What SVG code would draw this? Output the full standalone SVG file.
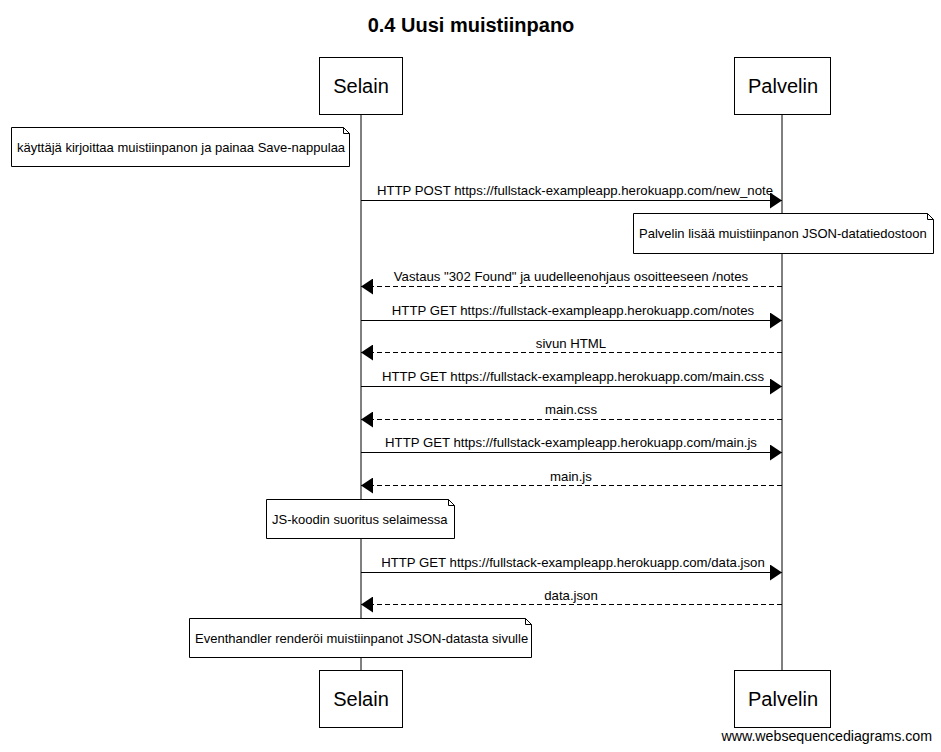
<svg xmlns="http://www.w3.org/2000/svg" width="941" height="752" viewBox="0 0 941 752">
<defs>
<style>
text{font-family:"Liberation Sans",Arial,sans-serif;fill:#000}
.title{font-size:20px;font-weight:bold;text-anchor:middle}
.actor{font-size:20px;text-anchor:middle}
.lbl{font-size:13.2px;text-anchor:middle}
.note{font-size:13px}
.box{fill:#fff;stroke:#000;stroke-width:1}
.life{stroke:#000;stroke-width:1}
.msg{stroke:#000;stroke-width:1;fill:none}
.ret{stroke:#000;stroke-width:1;fill:none;stroke-dasharray:5,3}
.wm{font-size:14.2px;text-anchor:end}
</style>
<marker id="ah" markerWidth="12" markerHeight="16" refX="12" refY="8" orient="auto" markerUnits="userSpaceOnUse">
<path d="M0,0 L12,8 L0,16 Z" fill="#000"/>
</marker>
</defs>
<rect width="941" height="752" fill="#fff"/>
<text class="title" x="471" y="32">0.4 Uusi muistiinpano</text>
<g id="lifelines">
<line class="life" x1="361" y1="114" x2="361" y2="670"/>
<line class="life" x1="782" y1="114" x2="782" y2="670"/>
</g>
<g id="selain-top"><rect class="box" x="319.5" y="57.5" width="83" height="57"/><text class="actor" x="361" y="93">Selain</text></g>
<g id="palvelin-top"><rect class="box" x="734.5" y="57.5" width="96" height="57"/><text class="actor" x="783" y="93">Palvelin</text></g>
<g id="selain-bottom"><rect class="box" x="319.5" y="670.5" width="83" height="57"/><text class="actor" x="361" y="706">Selain</text></g>
<g id="palvelin-bottom"><rect class="box" x="734.5" y="670.5" width="96" height="57"/><text class="actor" x="783" y="706">Palvelin</text></g>
<g id="note1"><path class="box" d="M11.5,127.5 H343.5 L349.5,133.5 V166.5 H11.5 Z"/><path class="msg" d="M343.5,127.5 V133.5 H349.5"/><text class="note" x="17" y="152">käyttäjä kirjoittaa muistiinpanon ja painaa Save-nappulaa</text></g>
<g id="note2"><path class="box" d="M633.5,213.5 H927.5 L933.5,219.5 V253.5 H633.5 Z"/><path class="msg" d="M927.5,213.5 V219.5 H933.5"/><text class="note" x="639" y="238">Palvelin lisää muistiinpanon JSON-datatiedostoon</text></g>
<g id="note3"><path class="box" d="M266.5,499.5 H448.5 L454.5,505.5 V538.5 H266.5 Z"/><path class="msg" d="M448.5,499.5 V505.5 H454.5"/><text class="note" x="272" y="524">JS-koodin suoritus selaimessa</text></g>
<g id="note4"><path class="box" d="M189.5,618.5 H525.5 L531.5,624.5 V657.5 H189.5 Z"/><path class="msg" d="M525.5,618.5 V624.5 H531.5"/><text class="note" x="195" y="643">Eventhandler renderöi muistiinpanot JSON-datasta sivulle</text></g>
<g id="connectors">
<line class="msg" x1="361" y1="200.5" x2="782" y2="200.5" marker-end="url(#ah)"/>
<text class="lbl" x="575" y="195">HTTP POST https://fullstack-exampleapp.herokuapp.com/new_note</text>
<line class="ret" x1="782" y1="286.5" x2="361" y2="286.5" marker-end="url(#ah)"/>
<text class="lbl" x="571" y="281">Vastaus "302 Found" ja uudelleenohjaus osoitteeseen /notes</text>
<line class="msg" x1="361" y1="320.5" x2="782" y2="320.5" marker-end="url(#ah)"/>
<text class="lbl" x="573" y="315">HTTP GET https://fullstack-exampleapp.herokuapp.com/notes</text>
<line class="ret" x1="782" y1="352.5" x2="361" y2="352.5" marker-end="url(#ah)"/>
<text class="lbl" x="571" y="348">sivun HTML</text>
<line class="msg" x1="361" y1="386.5" x2="782" y2="386.5" marker-end="url(#ah)"/>
<text class="lbl" x="573" y="381">HTTP GET https://fullstack-exampleapp.herokuapp.com/main.css</text>
<line class="ret" x1="782" y1="419.5" x2="361" y2="419.5" marker-end="url(#ah)"/>
<text class="lbl" x="571" y="414">main.css</text>
<line class="msg" x1="361" y1="452.5" x2="782" y2="452.5" marker-end="url(#ah)"/>
<text class="lbl" x="571" y="447">HTTP GET https://fullstack-exampleapp.herokuapp.com/main.js</text>
<line class="ret" x1="782" y1="485.5" x2="361" y2="485.5" marker-end="url(#ah)"/>
<text class="lbl" x="571" y="481">main.js</text>
<line class="msg" x1="361" y1="572.5" x2="782" y2="572.5" marker-end="url(#ah)"/>
<text class="lbl" x="573" y="567">HTTP GET https://fullstack-exampleapp.herokuapp.com/data.json</text>
<line class="ret" x1="782" y1="604.5" x2="361" y2="604.5" marker-end="url(#ah)"/>
<text class="lbl" x="571" y="600">data.json</text>
</g>
<text class="wm" x="932" y="741">www.websequencediagrams.com</text>
</svg>
